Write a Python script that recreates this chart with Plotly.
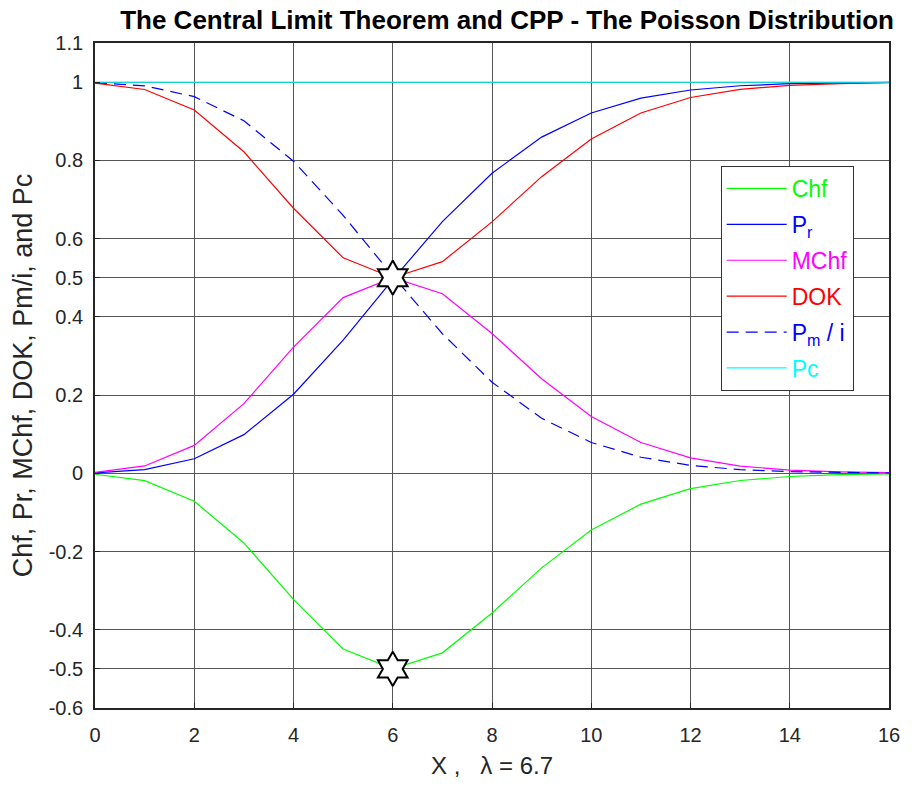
import plotly.graph_objects as go

x = list(range(0, 17))
pr = [0.0012, 0.0095, 0.0371, 0.0988, 0.2021, 0.3406, 0.4952, 0.6432, 0.7671,
      0.8594, 0.9212, 0.9589, 0.9799, 0.9907, 0.9959, 0.9982, 0.9992]
pm_i = [0.9988, 0.9905, 0.9629, 0.9012, 0.7979, 0.6594, 0.5048, 0.3568, 0.2329,
        0.1406, 0.0788, 0.0411, 0.0201, 0.0093, 0.0041, 0.0018, 0.0008]
chf = [-0.0025, -0.0188, -0.0714, -0.1781, -0.3225, -0.4492, -0.5000, -0.4590, -0.3573,
       -0.2417, -0.1452, -0.0788, -0.0394, -0.0184, -0.0082, -0.0036, -0.0016]
mchf = [0.0025, 0.0188, 0.0714, 0.1781, 0.3225, 0.4492, 0.5000, 0.4590, 0.3573,
        0.2417, 0.1452, 0.0788, 0.0394, 0.0184, 0.0082, 0.0036, 0.0016]
dok = [0.9975, 0.9812, 0.9286, 0.8219, 0.6775, 0.5508, 0.5000, 0.5410, 0.6427,
       0.7583, 0.8548, 0.9212, 0.9606, 0.9816, 0.9918, 0.9964, 0.9984]
pc = [1.0] * 17
star_x = [6, 6]
star_y = [0.5, -0.5]

xticks = [0, 2, 4, 6, 8, 10, 12, 14, 16]
yticks = [-0.6, -0.5, -0.4, -0.2, 0, 0.2, 0.4, 0.5, 0.6, 0.8, 1, 1.1]
ytick_text = ["-0.6", "-0.5", "-0.4", "-0.2", "0", "0.2", "0.4", "0.5", "0.6", "0.8", "1", "1.1"]

FONT = "Liberation Sans, Arial, sans-serif"

series = [
    ("Chf", chf, "#00ff00", "solid"),
    ("P<sub>r</sub>", pr, "#0000ff", "solid"),
    ("MChf", mchf, "#ff00ff", "solid"),
    ("DOK", dok, "#ff0000", "solid"),
    ("P<sub>m</sub> / i", pm_i, "#0000ff", "12px,7px"),
    ("Pc", pc, "#00ffff", "solid"),
]

fig = go.Figure()
for i, (name, vals, col, dash) in enumerate(series):
    fig.add_trace(go.Scatter(
        x=x, y=vals, mode="lines",
        name=f'<span style="color:{col}">{name}</span>',
        line=dict(color=col, width=1.2, dash=dash),
        legendgroup=f"g{i}",
    ))

fig.add_trace(go.Scatter(
    x=star_x, y=star_y, mode="markers", showlegend=False,
    marker=dict(symbol="hexagram", size=26, color="white",
                line=dict(color="black", width=2)),
))

fig.update_layout(
    width=912, height=788,
    margin=dict(l=95, r=17, t=43, b=80),
    plot_bgcolor="white", paper_bgcolor="white",
    font=dict(family=FONT, size=20, color="#262626"),
    title=dict(text="<b>The Central Limit Theorem and CPP - The Poisson Distribution</b>",
               x=0.556, xanchor="center", y=0.975, yanchor="middle",
               font=dict(family=FONT, size=26, color="black")),
    legend=dict(x=0.788, y=0.815, xanchor="left", yanchor="top",
                bgcolor="white", bordercolor="#333333", borderwidth=1,
                font=dict(family=FONT, size=23), tracegroupgap=3,
                itemwidth=60),
    showlegend=True,
)
fig.update_xaxes(
    range=[0, 16], tickvals=xticks, showgrid=True, gridcolor="#555555", gridwidth=1,
    zeroline=False, showline=True, linecolor="#262626", linewidth=1.8, mirror=True,
    ticks="inside", ticklen=5, tickcolor="#262626", ticklabelstandoff=8,
    title=dict(text="X ,   λ = 6.7", font=dict(size=24), standoff=12),
    tickfont=dict(size=20),
)
fig.update_yaxes(
    range=[-0.6, 1.1], tickvals=yticks, ticktext=ytick_text, showgrid=True,
    gridcolor="#555555", gridwidth=1,
    zeroline=False, showline=True, linecolor="#262626", linewidth=1.8, mirror=True,
    ticks="inside", ticklen=5, tickcolor="#262626", ticklabelstandoff=6,
    title=dict(text="Chf, Pr, MChf, DOK, Pm/i, and Pc", font=dict(size=27), standoff=8),
    tickfont=dict(size=20),
)

fig.write_html("out.html")
